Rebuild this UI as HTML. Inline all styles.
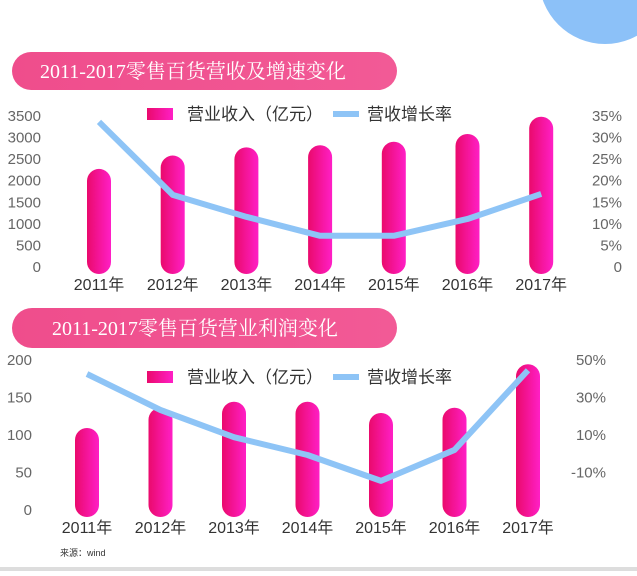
<!DOCTYPE html>
<html><head><meta charset="utf-8"><style>
html,body{margin:0;padding:0;background:#fff;}
body{width:637px;height:571px;overflow:hidden;font-family:"Liberation Sans","Noto Sans CJK SC",sans-serif;}
</style></head><body>
<svg id="s" width="637" height="571" xmlns="http://www.w3.org/2000/svg">
<defs>
<linearGradient id="bg" x1="0" x2="1" y1="0" y2="0"><stop offset="0" stop-color="#ea0a6c"/><stop offset="1" stop-color="#ff1fc6"/></linearGradient>
<linearGradient id="pill" x1="0" x2="1" y1="0" y2="0"><stop offset="0" stop-color="#ef4d8c"/><stop offset="1" stop-color="#f25a96"/></linearGradient>
</defs>
<circle cx="605" cy="-22" r="66" fill="#8cc1f8"/>
<rect x="12" y="52" width="385" height="38" rx="19" fill="url(#pill)"/>
<text x="40" y="78" font-size="20" fill="#fff" font-family="'Liberation Serif','Noto Serif CJK SC',serif">2011-2017零售百货营收及增速变化</text>
<rect x="12" y="308" width="385" height="40" rx="20" fill="url(#pill)"/>
<text x="52" y="335" font-size="20" fill="#fff" font-family="'Liberation Serif','Noto Serif CJK SC',serif">2011-2017零售百货营业利润变化</text>
<text x="60" y="556" font-size="9" fill="#333">来源：wind</text>
<rect x="0" y="567" width="637" height="4" fill="#ddd"/>
<g id="c1"></g><g id="c2"></g>
</svg>
<script>
const years=["2011年","2012年","2013年","2014年","2015年","2016年","2017年"];
const revenue1=[2250,2560,2750,2800,2880,3060,3460];
const growth1=[33.4,16.5,11.4,7,7,10.9,16.7];
const leftTicks1=[0,500,1000,1500,2000,2500,3000,3500];
const rightTicks1=["0","5%","10%","15%","20%","25%","30%","35%"];
const rightVals1=[0,5,10,15,20,25,30,35];
const profit2=[108,135,143,143,128,135,193];
const growth2=[42,22.8,8.3,-1.2,-15,1.5,44];
const leftTicks2=[0,50,100,150,200];
const rightTicks2=["-10%","10%","30%","50%"];
const rightVals2=[-10,10,30,50];
const NS="http://www.w3.org/2000/svg";
function mk(p,t,a){const e=document.createElementNS(NS,t);for(const k in a)e.setAttribute(k,a[k]);p.appendChild(e);return e;}
function draw(g,cfg){
  const xs=i=>cfg.x0+i*cfg.dx;
  const yL=v=>cfg.yb-(v-cfg.lmin)/(cfg.lmax-cfg.lmin)*(cfg.yb-cfg.yt);
  const yR=v=>cfg.yb-(v-cfg.rmin)/(cfg.rmax-cfg.rmin)*(cfg.yb-cfg.yt);
  cfg.lt.forEach(v=>{const t=mk(g,'text',{x:cfg.lx,y:yL(v)+6,'font-size':15,fill:'#666','text-anchor':'end'});t.textContent=v;
    
    });
  cfg.rv.forEach((v,i)=>{const t=mk(g,'text',{x:cfg.rx,y:yR(v)+6,'font-size':15,fill:'#666','text-anchor':'end'});t.textContent=cfg.rt[i];
    
    });
  cfg.bars.forEach((v,i)=>{const top=yL(v);const r=mk(g,'rect',{x:xs(i)-12,y:top,width:24,height:cfg.yb+8-top,rx:12,fill:'url(#bg)'});
    
    });
  const pts=cfg.line.map((v,i)=>xs(i)+','+yR(v)).join(' ');
  const pl=mk(g,'polyline',{points:pts,fill:'none',stroke:'#8ec4f6','stroke-width':6,'stroke-linejoin':'round'});
  
  
  years.forEach((y,i)=>{const t=mk(g,'text',{x:xs(i),y:cfg.yb+cfg.xly,'font-size':16,fill:'#333','text-anchor':'middle'});t.textContent=y;
    
    });
  const lr=mk(g,'rect',{x:147,y:cfg.ly-6,width:26,height:12,fill:'url(#bg)'});
  
  
  const t1=mk(g,'text',{x:187,y:cfg.ly+6,'font-size':17,fill:'#333'});t1.textContent='营业收入（亿元）';
  
  
  const ll=mk(g,'line',{x1:333,x2:359,y1:cfg.ly,y2:cfg.ly,stroke:'#8ec4f6','stroke-width':6});
  
  
  const t2=mk(g,'text',{x:367,y:cfg.ly+6,'font-size':17,fill:'#333'});t2.textContent='营收增长率';
  
  
}
draw(document.getElementById('c1'),{x0:99,dx:73.7,yt:115,yb:266,lmin:0,lmax:3500,rmin:0,rmax:35,lt:leftTicks1,rt:rightTicks1,rv:rightVals1,lx:41,rx:622,bars:revenue1,line:growth1,xly:24,ly:114});
draw(document.getElementById('c2'),{x0:87,dx:73.5,yt:359,yb:509,lmin:0,lmax:200,rmin:-30,rmax:50,lt:leftTicks2,rt:rightTicks2,rv:rightVals2,lx:32,rx:606,bars:profit2,line:growth2,xly:24,ly:377});
</script>
</body></html>
